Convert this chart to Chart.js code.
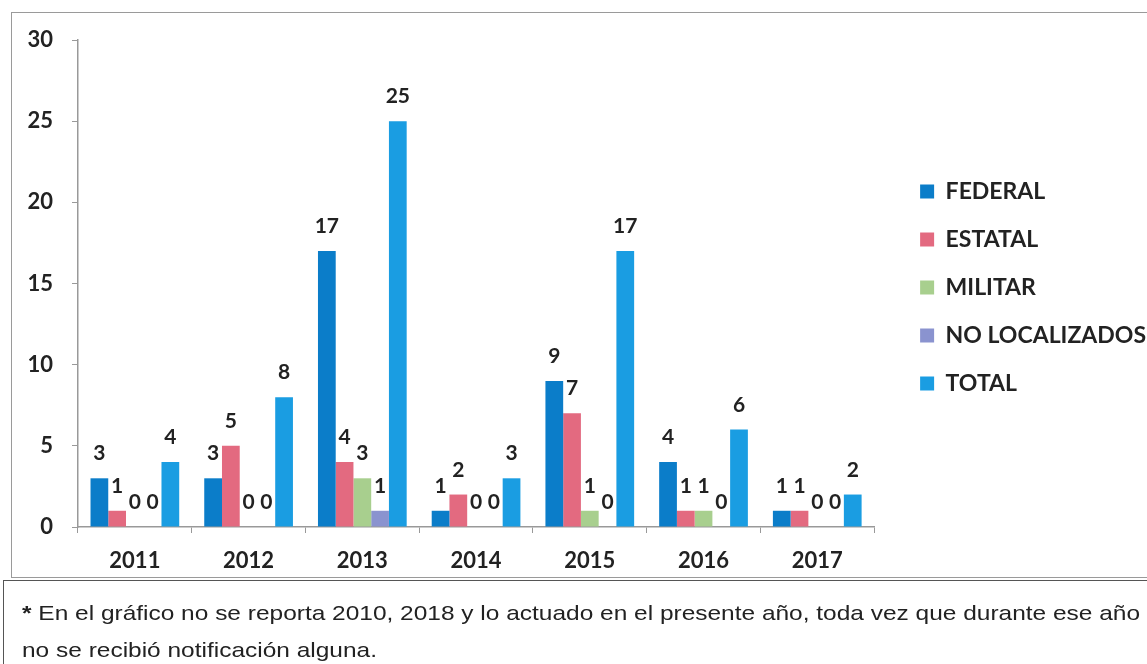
<!DOCTYPE html>
<html>
<head>
<meta charset="utf-8">
<script src="https://cdn.jsdelivr.net/npm/chart.js@4"></script>
<style>
  body { margin: 0; background: #fff; }
  #page { position: relative; width: 1147px; height: 664px; overflow: hidden; }
  #chartBox { position: absolute; left: 11px; top: 12px; width: 1150px; height: 566px;
    border: 1.5px solid #9a9a9a; box-sizing: border-box; }
  #chartWrap { position: absolute; left: 0; top: 0; width: 1147px; height: 600px; }
  #note { position: absolute; left: 3px; top: 580px; width: 1150px; height: 90px;
    border: 1.5px solid #555; box-sizing: border-box; color: #222; }
  #note div { position: absolute; left: 18px; top: 13px; white-space: nowrap;
    font-family: "Liberation Sans", Arial, sans-serif; font-size: 21px; line-height: 37px;
    transform: scaleX(1.165); transform-origin: left top; }
</style>
</head>
<body>
<div id="page">
  <div id="chartBox"></div>
  <div id="chartWrap"><canvas id="chart"></canvas></div>
  <div id="note"><div><b>*</b> En el gráfico no se reporta 2010, 2018 y lo actuado en el presente año, toda vez que durante ese año<br>no se recibió notificación alguna.</div></div>
</div>
<script>
// Datos
const years = ["2011", "2012", "2013", "2014", "2015", "2016", "2017"];
const federal = [3, 3, 17, 1, 9, 4, 1];
const estatal = [1, 5, 4, 2, 7, 1, 1];
const militar = [0, 0, 3, 0, 1, 1, 0];
const noLocalizados = [0, 0, 1, 0, 0, 0, 0];
const total = [4, 8, 25, 3, 17, 6, 2];
const yTicks = [0, 5, 10, 15, 20, 25, 30];

const fontFamily = "Lato, 'Open Sans', sans-serif";
const tickFont = { family: fontFamily, size: 22, weight: "bold" };

// Etiquetas de valor encima de cada barra
const valueLabels = {
  id: "valueLabels",
  afterDatasetsDraw(chart) {
    const ctx = chart.ctx;
    ctx.save();
    ctx.font = "bold 21px " + fontFamily;
    ctx.fillStyle = "#222";
    ctx.textAlign = "center";
    ctx.textBaseline = "alphabetic";
    chart.data.datasets.forEach((ds, i) => {
      chart.getDatasetMeta(i).data.forEach((bar, j) => {
        ctx.fillText(ds.data[j], bar.x, bar.y - 18);
      });
    });
    ctx.restore();
  }
};

// Separa la leyenda del area del grafico y la sube un poco
const legendGap = {
  id: "legendGap",
  afterLayout(chart) {
    const lg = chart.legend;
    lg.left += 21;
    lg.right += 21;
    lg.top -= 26;
    lg.bottom -= 26;
  }
};

const ctx = document.getElementById("chart").getContext("2d");
new Chart(ctx, {
  type: "bar",
  data: {
    labels: years,
    datasets: [
      { label: "FEDERAL", data: federal, backgroundColor: "#0b7dc9" },
      { label: "ESTATAL", data: estatal, backgroundColor: "#e36a80" },
      { label: "MILITAR", data: militar, backgroundColor: "#a8cf8e" },
      { label: "NO LOCALIZADOS", data: noLocalizados, backgroundColor: "#8a93cf" },
      { label: "TOTAL", data: total, backgroundColor: "#1a9de2" }
    ]
  },
  options: {
    responsive: true,
    maintainAspectRatio: false,
    animation: false,
    layout: { padding: { top: 40, left: 0, bottom: 13, right: 12 } },
    datasets: { bar: { categoryPercentage: 0.78, barPercentage: 1.0 } },
    plugins: {
      tooltip: { enabled: false },
      legend: {
        position: "right",
        labels: {
          boxWidth: 14,
          boxHeight: 14,
          padding: 25,
          color: "#222",
          font: { family: fontFamily, size: 23, weight: "bold" }
        }
      }
    },
    scales: {
      x: {
        grid: { drawOnChartArea: false, tickLength: 6, color: "#999" },
        border: { color: "#999", width: 1.5 },
        ticks: { color: "#222", font: tickFont, padding: 15 },
        afterFit: (axis) => { axis.height = 60; }
      },
      y: {
        min: 0,
        max: 30,
        afterBuildTicks: (axis) => { axis.ticks = yTicks.map((v) => ({ value: v })); },
        grid: { drawOnChartArea: false, tickLength: 6, color: "#999" },
        border: { color: "#999", width: 1.5 },
        ticks: { color: "#222", font: tickFont, padding: 19 },
        afterFit: (axis) => { axis.width = 78; }
      }
    }
  },
  plugins: [valueLabels, legendGap]
});
</script>
</body>
</html>
